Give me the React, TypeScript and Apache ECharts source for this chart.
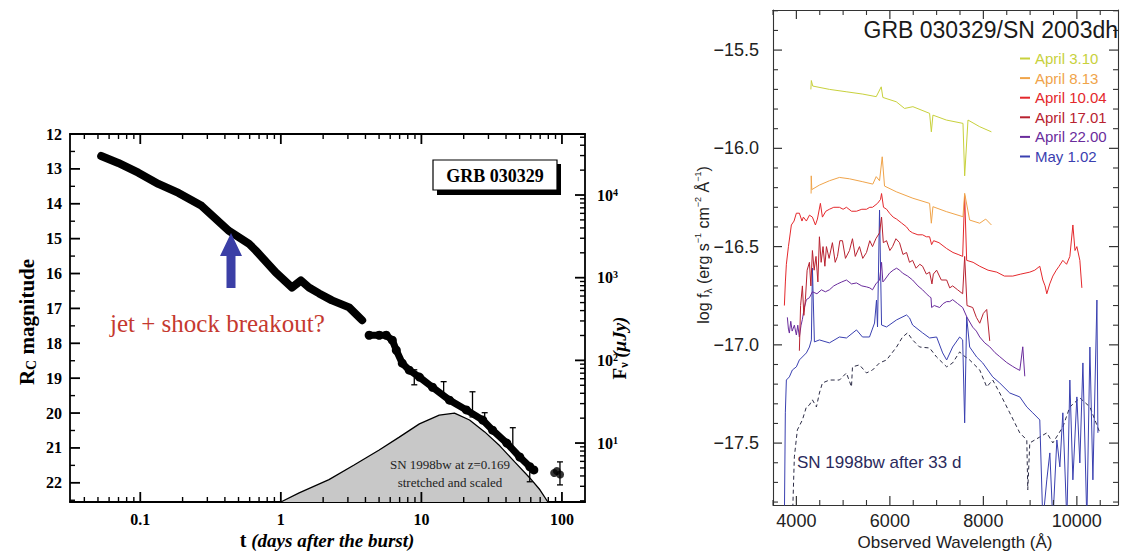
import React, { useEffect, useRef } from "react";
import * as echarts from "echarts";

// ---------- Left panel: GRB 030329 light curve ----------
const lcEarlyT = [0.0527, 0.0697, 0.0968, 0.1345, 0.187, 0.273, 0.425, 0.591, 0.663, 0.921, 1.2, 1.39, 1.585, 1.87, 2.31, 3.06, 3.79];
const lcEarlyMag = [12.63, 12.83, 13.11, 13.43, 13.69, 14.06, 14.77, 15.14, 15.34, 15.97, 16.4, 16.2, 16.4, 16.57, 16.77, 16.97, 17.34];
const lcLateT = [4.25, 5.01, 5.62, 6.21, 6.63, 7.31, 8.2, 9.68, 12.0, 15.85, 20.9, 27.3, 32.1, 40.5, 50.1, 59.1, 63.1];
const lcLateMag = [17.77, 17.77, 17.77, 17.91, 18.2, 18.57, 18.77, 18.97, 19.26, 19.63, 19.91, 20.2, 20.49, 20.86, 21.26, 21.54, 21.63];
const lcLastT = [88, 92, 97];
const lcLastMag = [21.72, 21.66, 21.76];
const errT = [8.9, 14.4, 23.1, 28.2, 44.7, 59, 96.8];
const errLo = [18.76, 19.1, 19.39, 19.99, 20.42, 21.48, 21.4];
const errHi = [19.19, 19.48, 20.11, 20.28, 21.05, 21.97, 22.06];
const snT = [1, 1.35, 2.2, 3.32, 5.01, 6.96, 9.68, 13.4, 17.2, 22.0, 28.2, 36.1, 46.1, 59.1, 69.7, 79.4];
const snMag = [22.55, 22.29, 21.91, 21.49, 21.06, 20.69, 20.31, 20.06, 20.0, 20.2, 20.54, 20.94, 21.4, 21.86, 22.2, 22.55];
const magTicks = [12, 13, 14, 15, 16, 17, 18, 19, 20, 21, 22];
const timeTicks = [0.1, 1, 10, 100];
const fluxTicks = [10, 100, 1000, 10000];

// ---------- Right panel: GRB 030329 / SN 2003dh spectra ----------
const specNames = ["April 3.10", "April 8.13", "April 10.04", "April 17.01", "April 22.00", "May 1.02"];
const specColors = ["#c8d13c", "#f0a44a", "#e4282c", "#b82230", "#6a2c9c", "#3a40b0"];

const apr03W = [4310, 4320, 4350, 4707, 5065, 5421, 5708, 5815, 5850, 6137, 6314, 6493, 6850, 6887, 6921, 7208, 7564, 7600, 7671, 7922, 8172];
const apr03F = [-15.70, -15.655, -15.683, -15.700, -15.712, -15.724, -15.737, -15.687, -15.741, -15.763, -15.797, -15.788, -15.822, -15.916, -15.831, -15.856, -15.873, -16.14, -15.856, -15.890, -15.916];

const apr08W = [4315, 4318, 4330, 4493, 4707, 4921, 5136, 5421, 5635, 5708, 5779, 5836, 5886, 6137, 6493, 6850, 6887, 6921, 7208, 7564, 7600, 7707, 7922, 8050, 8172];
const apr08F = [-16.23, -16.14, -16.21, -16.187, -16.165, -16.148, -16.155, -16.170, -16.182, -16.144, -16.165, -16.043, -16.192, -16.221, -16.254, -16.280, -16.381, -16.297, -16.322, -16.348, -16.229, -16.365, -16.381, -16.36, -16.390];

const apr10W = [3743, 3765, 3786, 3830, 3893, 3950, 4000, 4064, 4120, 4150, 4214, 4280, 4343, 4407, 4450, 4514, 4557, 4630, 4707, 4800, 4921, 5000, 5071, 5180, 5286, 5400, 5500, 5570, 5629, 5736, 5800, 5822, 5864, 5930, 5993, 6070, 6143, 6250, 6357, 6420, 6486, 6600, 6700, 6780, 6850, 6893, 6936, 7050, 7215, 7350, 7460, 7557, 7600, 7643, 7780, 7922, 8100, 8286, 8450, 8629, 8800, 8993, 9100, 9207, 9272, 9320, 9357, 9420, 9486, 9560, 9620, 9700, 9780, 9850, 9915, 9960, 10000, 10064, 10107];
const apr10F = [-16.80, -16.68, -16.59, -16.50, -16.39, -16.37, -16.33, -16.33, -16.37, -16.35, -16.37, -16.34, -16.35, -16.39, -16.36, -16.28, -16.35, -16.32, -16.31, -16.30, -16.30, -16.31, -16.30, -16.32, -16.32, -16.31, -16.31, -16.30, -16.30, -16.28, -16.26, -16.23, -16.30, -16.31, -16.33, -16.35, -16.36, -16.38, -16.40, -16.42, -16.43, -16.44, -16.44, -16.45, -16.45, -16.49, -16.47, -16.48, -16.51, -16.53, -16.54, -16.55, -16.24, -16.57, -16.58, -16.60, -16.62, -16.63, -16.65, -16.65, -16.64, -16.63, -16.62, -16.60, -16.67, -16.70, -16.74, -16.69, -16.65, -16.62, -16.60, -16.57, -16.59, -16.55, -16.39, -16.52, -16.50, -16.57, -16.71];

const apr17W = [4064, 4090, 4129, 4160, 4193, 4230, 4279, 4310, 4343, 4380, 4420, 4460, 4493, 4530, 4570, 4610, 4643, 4700, 4771, 4830, 4879, 4930, 4986, 5050, 5136, 5200, 5260, 5350, 5420, 5500, 5570, 5629, 5700, 5779, 5822, 5860, 5929, 6000, 6057, 6130, 6207, 6280, 6357, 6420, 6486, 6560, 6640, 6700, 6780, 6850, 6900, 6930, 7000, 7100, 7215, 7280, 7343, 7450, 7557, 7600, 7650, 7772, 7850, 7922, 8000, 8072, 8136];
const apr17F = [-17.03, -16.80, -16.70, -16.85, -16.77, -16.62, -16.58, -16.70, -16.52, -16.62, -16.55, -16.68, -16.45, -16.58, -16.50, -16.60, -16.50, -16.56, -16.48, -16.58, -16.55, -16.47, -16.47, -16.56, -16.52, -16.46, -16.55, -16.50, -16.56, -16.53, -16.47, -16.50, -16.46, -16.43, -16.35, -16.48, -16.47, -16.52, -16.50, -16.46, -16.48, -16.54, -16.53, -16.58, -16.57, -16.61, -16.59, -16.60, -16.64, -16.63, -16.69, -16.64, -16.62, -16.67, -16.67, -16.71, -16.70, -16.72, -16.74, -16.55, -16.80, -16.81, -16.86, -16.89, -16.84, -16.82, -16.98];

const apr22W = [3807, 3830, 3850, 3880, 3910, 3957, 4000, 4030, 4064, 4100, 4129, 4170, 4214, 4280, 4343, 4440, 4536, 4620, 4707, 4800, 4879, 4970, 5071, 5180, 5286, 5400, 5500, 5570, 5629, 5700, 5779, 5822, 5850, 5886, 5993, 6070, 6143, 6210, 6271, 6380, 6486, 6600, 6700, 6780, 6850, 6880, 6893, 6950, 7065, 7140, 7215, 7280, 7343, 7450, 7557, 7650, 7772, 7850, 7922, 8030, 8136, 8250, 8350, 8500, 8629, 8700, 8779, 8843, 8886];
const apr22F = [-16.86, -16.92, -16.94, -16.88, -16.93, -16.90, -16.95, -16.90, -16.96, -16.90, -16.87, -16.81, -16.77, -16.76, -16.73, -16.74, -16.72, -16.73, -16.72, -16.70, -16.69, -16.68, -16.67, -16.69, -16.685, -16.70, -16.705, -16.71, -16.72, -16.69, -16.67, -16.58, -16.68, -16.67, -16.635, -16.62, -16.61, -16.62, -16.635, -16.65, -16.67, -16.70, -16.72, -16.74, -16.755, -16.76, -16.81, -16.80, -16.81, -16.79, -16.78, -16.78, -16.77, -16.79, -16.81, -16.86, -16.91, -16.93, -16.96, -16.99, -17.01, -17.04, -17.06, -17.09, -17.11, -17.12, -17.13, -17.01, -17.16];

const may01W = [3743, 3764, 3786, 3850, 3914, 4000, 4064, 4214, 4279, 4321, 4343, 4386, 4493, 4707, 4921, 5071, 5286, 5414, 5564, 5672, 5714, 5736, 5779, 5822, 5929, 6143, 6357, 6421, 6486, 6700, 6850, 7000, 7129, 7215, 7343, 7493, 7557, 7600, 7643, 7707, 7857, 7986, 8200, 8350, 8565, 8779, 8929, 9057, 9207, 9272, 9357, 9422, 9486, 9572, 9636, 9700, 9786, 9850, 9915, 10000, 10064, 10129, 10214, 10279, 10343, 10429, 10450];
const may01F = [-17.90, -17.346, -17.179, -17.163, -17.128, -17.112, -17.077, -17.041, -17.011, -16.975, -16.609, -16.985, -16.975, -16.990, -16.960, -16.965, -16.924, -16.960, -16.960, -16.889, -16.772, -16.909, -16.314, -16.899, -16.909, -16.873, -16.848, -16.863, -16.899, -16.939, -16.965, -16.960, -17.041, -17.077, -17.011, -16.960, -16.975, -17.397, -16.858, -17.011, -17.062, -17.092, -17.163, -17.194, -17.245, -17.265, -17.316, -17.346, -17.382, -17.90, -17.687, -17.550, -17.90, -17.484, -17.621, -17.346, -17.90, -17.179, -17.687, -17.265, -17.601, -17.092, -17.90, -17.011, -17.687, -16.772, -17.448];

const sn98W = [3914, 3957, 4021, 4129, 4214, 4279, 4343, 4429, 4493, 4557, 4707, 4921, 5071, 5179, 5200, 5350, 5500, 5629, 5779, 5929, 6143, 6271, 6379, 6486, 6636, 6850, 7000, 7215, 7343, 7493, 7557, 7707, 7922, 8072, 8200, 8350, 8565, 8779, 8929, 8950, 8993, 9207, 9357, 9486, 9700, 9850, 10064, 10279, 10493];
const sn98F = [-17.90, -17.570, -17.433, -17.382, -17.316, -17.306, -17.280, -17.316, -17.245, -17.194, -17.179, -17.179, -17.143, -17.214, -17.112, -17.102, -17.143, -17.128, -17.092, -17.077, -17.011, -16.960, -16.939, -16.975, -17.011, -17.016, -17.062, -17.112, -17.092, -17.036, -17.051, -17.077, -17.128, -17.214, -17.179, -17.245, -17.346, -17.448, -17.484, -17.738, -17.499, -17.469, -17.448, -17.499, -17.418, -17.316, -17.270, -17.316, -17.448];

const fluxLabelTicks = [-17.5, -17.0, -16.5, -16.0, -15.5];
const waveLabelTicks = [4000, 6000, 8000, 10000];

const SERIF = "'Liberation Serif', 'Times New Roman', serif";
const SANS = "'Liberation Sans', Arial, Helvetica, sans-serif";

const L = (v: number) => Math.log10(v);
const zip = (xs: number[], ys: number[], fx: (v: number) => number = (v) => v) => xs.map((x, i) => [fx(x), ys[i]]);

// layout: grids and axis extents
const G0 = { left: 70, top: 134, width: 515, height: 368 };
const G1 = { left: 773, top: 10, width: 345, height: 495 };
const lxMin = -1.5, lxMax = 2.164;
const lyMin = 12, lyMax = 22.55;
const fMin = 0.287, fMax = 4.738;
const rxMin = 3500, rxMax = 10880;
const ryMin = -17.815, ryMax = -15.296;

function logMinor(lo: number, hi: number) {
  const out: number[] = [];
  for (let n = -3; n <= 5; n++) for (let k = 2; k <= 9; k++) {
    const v = n + Math.log10(k);
    if (v > lo && v < hi) out.push(v);
  }
  return out;
}
function linTicks(lo: number, hi: number, step: number) {
  const out: number[] = [];
  for (let v = Math.ceil(lo / step - 1e-9) * step; v <= hi + 1e-9; v += step) out.push(Math.round(v * 1000) / 1000);
  return out;
}

const common = { silent: true, emphasis: { disabled: true }, animation: false };

// x-direction tick marks: each item [x, yAtEdgeA, yAtEdgeB]; marks point inward from both edges.
function xTickSeries(name: string, xIdx: number, yIdx: number, vals: number[], yA: number, yB: number, len: number, color: string, w: number) {
  return {
    ...common, type: "custom", name, xAxisIndex: xIdx, yAxisIndex: yIdx, z: 6,
    data: vals.map((v) => [v, yA, yB]),
    encode: { x: 0, y: [1, 2] },
    renderItem: (_p: any, api: any) => {
      const x = api.value(0);
      const a = api.coord([x, api.value(1)]);
      const b = api.coord([x, api.value(2)]);
      const s = b[1] > a[1] ? 1 : -1;
      const st = { stroke: color, lineWidth: w };
      return { type: "group", children: [
        { type: "line", shape: { x1: a[0], y1: a[1], x2: a[0], y2: a[1] + s * len }, style: st },
        { type: "line", shape: { x1: b[0], y1: b[1], x2: b[0], y2: b[1] - s * len }, style: st },
      ] };
    },
  };
}
// y-direction tick marks: each item [y, xLeft, xRight]; sides chosen by flags.
function yTickSeries(name: string, xIdx: number, yIdx: number, vals: number[], xL: number, xR: number, len: number,
                     left: boolean, right: boolean, color: string, w: number) {
  return {
    ...common, type: "custom", name, xAxisIndex: xIdx, yAxisIndex: yIdx, z: 6,
    data: vals.map((v) => [xL, v, xR]),
    encode: { x: [0, 2], y: 1 },
    renderItem: (_p: any, api: any) => {
      const y = api.value(1);
      const a = api.coord([api.value(0), y]);
      const b = api.coord([api.value(2), y]);
      const st = { stroke: color, lineWidth: w };
      const ch: any[] = [];
      if (left) ch.push({ type: "line", shape: { x1: a[0], y1: a[1], x2: a[0] + len, y2: a[1] }, style: st });
      if (right) ch.push({ type: "line", shape: { x1: b[0], y1: b[1], x2: b[0] - len, y2: b[1] }, style: st });
      return { type: "group", children: ch };
    },
  };
}

function buildOption() {
  const lineL = { show: true, onZero: false, lineStyle: { color: "#000", width: 1.8 } };
  const lineR = { show: true, onZero: false, lineStyle: { color: "#333", width: 1.1 } };
  const noTick = { show: false };
  const noLabel = { show: false };
  const base = { type: "value", splitLine: { show: false }, axisPointer: { show: false } };

  const xMajL = timeTicks.map(L);
  const xMinL = logMinor(lxMin, lxMax);
  const yMinL = magTicks.map((v) => v + 0.5).filter((v) => v < lyMax);
  const fMaj = fluxTicks.map(L);
  const fMinT = logMinor(fMin, fMax);
  const xMinR = linTicks(rxMin, rxMax, 500).filter((v) => v % 2000 !== 0);
  const yMinR = linTicks(ryMin, ryMax, 0.1).filter((v) => Math.abs(v * 2 - Math.round(v * 2)) > 1e-6);

  const serifLabel = { fontFamily: SERIF, fontWeight: "bold", fontSize: 16, color: "#000" };
  const sansLabel = { fontFamily: SANS, fontSize: 18, color: "#222" };

  const xAxis: any[] = [
    { ...base, gridIndex: 0, position: "bottom", min: lxMin, max: lxMax, axisLine: lineL, axisTick: noTick,
      axisLabel: { ...serifLabel, customValues: xMajL, margin: 9, formatter: (v: number) => String(+Math.pow(10, v).toPrecision(1)) } },
    { ...base, gridIndex: 0, position: "top", min: lxMin, max: lxMax, axisLine: lineL, axisTick: noTick, axisLabel: noLabel },
    { ...base, gridIndex: 1, position: "bottom", min: rxMin, max: rxMax, axisLine: lineR, axisTick: noTick,
      axisLabel: { ...sansLabel, customValues: waveLabelTicks, margin: 7, formatter: (v: number) => String(v) } },
    { ...base, gridIndex: 1, position: "top", min: rxMin, max: rxMax, axisLine: lineR, axisTick: noTick, axisLabel: noLabel },
  ];
  const yAxis: any[] = [
    { ...base, gridIndex: 0, position: "left", inverse: true, min: lyMin, max: lyMax, axisLine: lineL, axisTick: noTick,
      axisLabel: { ...serifLabel, customValues: magTicks, margin: 8, formatter: (v: number) => String(v) } },
    { ...base, gridIndex: 0, position: "right", min: fMin, max: fMax, axisLine: lineL, axisTick: noTick,
      axisLabel: { ...serifLabel, customValues: fMaj, margin: 12, formatter: (v: number) => "10{s|" + Math.round(v) + "}",
        rich: { s: { fontFamily: SERIF, fontWeight: "bold", fontSize: 10, verticalAlign: "top", color: "#000" } } } },
    { ...base, gridIndex: 1, position: "left", min: ryMin, max: ryMax, axisLine: lineR, axisTick: noTick,
      axisLabel: { ...sansLabel, customValues: fluxLabelTicks, margin: 14, formatter: (v: number) => v.toFixed(1).replace("-", "\u2212") } },
    { ...base, gridIndex: 1, position: "right", min: ryMin, max: ryMax, axisLine: lineR, axisTick: noTick, axisLabel: noLabel },
  ];

  const specW = [apr03W, apr08W, apr10W, apr17W, apr22W, may01W];
  const specF = [apr03F, apr08F, apr10F, apr17F, apr22F, may01F];
  const specSeries = specNames.map((name, i) => ({
    ...common, type: "line", name, xAxisIndex: 2, yAxisIndex: 2, showSymbol: false, symbol: "none",
    color: specColors[i], lineStyle: { color: specColors[i], width: 1 }, data: zip(specW[i], specF[i]), z: 3 + (5 - i),
  }));

  const series: any[] = [
    { ...common, type: "line", name: "SN 1998bw template", xAxisIndex: 0, yAxisIndex: 0, showSymbol: false, symbol: "none",
      data: zip(snT, snMag, L), lineStyle: { color: "#000", width: 1.3 }, areaStyle: { color: "#c8c8c8", opacity: 1, origin: "end" }, z: 2 },
    { ...common, type: "line", name: "LC early", xAxisIndex: 0, yAxisIndex: 0, showSymbol: false, symbol: "none",
      data: zip(lcEarlyT, lcEarlyMag, L), lineStyle: { color: "#000", width: 8, cap: "round", join: "round" }, z: 4 },
    { ...common, type: "line", name: "LC late", xAxisIndex: 0, yAxisIndex: 0, showSymbol: true, symbol: "circle", symbolSize: 9,
      itemStyle: { color: "#000" }, data: zip(lcLateT, lcLateMag, L), lineStyle: { color: "#000", width: 7, cap: "round", join: "round" }, z: 4 },
    { ...common, type: "scatter", name: "LC last", xAxisIndex: 0, yAxisIndex: 0, symbol: "circle", symbolSize: 8,
      itemStyle: { color: "#000" }, data: zip(lcLastT, lcLastMag, L), z: 4 },
    { ...common, type: "custom", name: "errors", xAxisIndex: 0, yAxisIndex: 0, z: 5,
      data: errT.map((t, i) => [L(t), errLo[i], errHi[i]]),
      encode: { x: 0, y: [1, 2] },
      renderItem: (_p: any, api: any) => {
        const x = api.value(0);
        const a = api.coord([x, api.value(1)]);
        const b = api.coord([x, api.value(2)]);
        const st = { stroke: "#000", lineWidth: 1.3 };
        return { type: "group", children: [
          { type: "line", shape: { x1: a[0], y1: a[1], x2: b[0], y2: b[1] }, style: st },
          { type: "line", shape: { x1: a[0] - 3, y1: a[1], x2: a[0] + 3, y2: a[1] }, style: st },
          { type: "line", shape: { x1: b[0] - 3, y1: b[1], x2: b[0] + 3, y2: b[1] }, style: st },
        ] };
      } },
    { ...common, type: "line", name: "SN 1998bw after 33 d", xAxisIndex: 2, yAxisIndex: 2, showSymbol: false, symbol: "none",
      data: zip(sn98W, sn98F), lineStyle: { color: "#2b2b45", width: 1, type: [4, 3] }, z: 2 },
    ...specSeries,
    // left panel tick marks
    xTickSeries("tx major L", 0, 0, xMajL, lyMax, lyMin, 10, "#000", 1.8),
    xTickSeries("tx minor L", 0, 0, xMinL, lyMax, lyMin, 5, "#000", 1.4),
    yTickSeries("ty major L", 0, 0, magTicks, lxMin, lxMax, 10, true, false, "#000", 1.8),
    yTickSeries("ty minor L", 0, 0, yMinL, lxMin, lxMax, 5, true, false, "#000", 1.4),
    yTickSeries("ty major F", 0, 1, fMaj, lxMin, lxMax, 10, false, true, "#000", 1.8),
    yTickSeries("ty minor F", 0, 1, fMinT, lxMin, lxMax, 5, false, true, "#000", 1.4),
    // right panel tick marks
    xTickSeries("tx major R", 2, 2, waveLabelTicks, ryMin, ryMax, 9, "#333", 1.2),
    xTickSeries("tx minor R", 2, 2, xMinR, ryMin, ryMax, 5, "#333", 1.1),
    yTickSeries("ty major R", 2, 2, fluxLabelTicks, rxMin, rxMax, 9, true, true, "#333", 1.2),
    yTickSeries("ty minor R", 2, 2, yMinR, rxMin, rxMax, 5, true, true, "#333", 1.1),
  ];

  const graphic: any[] = [
    { type: "rect", shape: { x: 437, y: 164, width: 124, height: 31 }, style: { fill: "#000" }, z: 10 },
    { type: "rect", shape: { x: 433, y: 160, width: 124, height: 30 }, style: { fill: "#fff", stroke: "#000", lineWidth: 1.2 }, z: 11 },
    { type: "text", x: 495, y: 176, z: 12, style: { text: "GRB 030329", fontFamily: SERIF, fontWeight: "bold", fontSize: 18, fill: "#000", align: "center", verticalAlign: "middle" } },
    { type: "polygon", z: 12, shape: { points: [[231, 233], [242, 256], [235.5, 256], [235.5, 288], [226.5, 288], [226.5, 256], [220, 256]] }, style: { fill: "#3b3fa6" } },
    { type: "text", x: 110, y: 323, z: 12, style: { text: "jet + shock breakout?", fontFamily: SERIF, fontSize: 25, fill: "#c5392f", align: "left", verticalAlign: "middle" } },
    { type: "text", x: 450, y: 464, z: 12, style: { text: "SN 1998bw at z=0.169", fontFamily: SERIF, fontSize: 13, fill: "#222", align: "center", verticalAlign: "middle" } },
    { type: "text", x: 450, y: 482, z: 12, style: { text: "stretched and scaled", fontFamily: SERIF, fontSize: 13, fill: "#222", align: "center", verticalAlign: "middle" } },
    { type: "text", x: 27, y: 322, rotation: Math.PI / 2, z: 12, style: { text: "{b|R}{s|C}{b| magnitude}", align: "center", verticalAlign: "middle",
      rich: { b: { fontFamily: SERIF, fontWeight: "bold", fontSize: 21, fill: "#000", lineHeight: 23 },
              s: { fontFamily: SERIF, fontWeight: "bold", fontSize: 14, fill: "#000", verticalAlign: "bottom" } } } },
    { type: "text", x: 619, y: 348, rotation: Math.PI / 2, z: 12, style: { text: "{b|F}{s|\u03bd}{i| (\u03bcJy)}", align: "center", verticalAlign: "middle",
      rich: { b: { fontFamily: SERIF, fontWeight: "bold", fontSize: 19, fill: "#000", lineHeight: 22 },
              s: { fontFamily: SERIF, fontWeight: "bold", fontSize: 12, fill: "#000", verticalAlign: "bottom" },
              i: { fontFamily: SERIF, fontWeight: "bold", fontStyle: "italic", fontSize: 19, fill: "#000", lineHeight: 22 } } } },
    { type: "text", x: 327, y: 540, z: 12, style: { text: "{b|t }{i|(days after the burst)}", align: "center", verticalAlign: "middle",
      rich: { b: { fontFamily: SERIF, fontWeight: "bold", fontSize: 20, fill: "#000" },
              i: { fontFamily: SERIF, fontWeight: "bold", fontStyle: "italic", fontSize: 19, fill: "#000" } } } },
    { type: "text", x: 703, y: 245, rotation: Math.PI / 2, z: 12, style: {
      text: "{n|log f}{sb|\u03bb}{n| (erg s}{sp|\u22121}{n| cm}{sp|\u22122}{n| \u00c5}{sp|\u22121}{n|)}", align: "center", verticalAlign: "middle",
      rich: { n: { fontFamily: SANS, fontSize: 16, fill: "#222", lineHeight: 20 },
              sb: { fontFamily: SANS, fontSize: 10, fill: "#222", verticalAlign: "bottom" },
              sp: { fontFamily: SANS, fontSize: 9, fill: "#222", verticalAlign: "top" } } } },
    { type: "text", x: 955, y: 542, z: 12, style: { text: "Observed Wavelength (\u00c5)", fontFamily: SANS, fontSize: 17, fill: "#222", align: "center", verticalAlign: "middle" } },
    { type: "text", x: 797, y: 462, z: 12, style: { text: "SN 1998bw after 33 d", fontFamily: SANS, fontSize: 17, fill: "#2a2a5c", align: "left", verticalAlign: "middle" } },
  ];

  return {
    animation: false,
    backgroundColor: "#fff",
    title: { text: "GRB 030329/SN 2003dh", right: 7, top: 18, padding: 0,
      textStyle: { fontFamily: SANS, fontSize: 23, fontWeight: "normal", color: "#1a1a1a" } },
    legend: {
      data: specNames.map((n, i) => ({ name: n, textStyle: { color: specColors[i] } })),
      orient: "vertical", left: 1020, top: 51, itemWidth: 10, itemHeight: 2, icon: "rect", itemGap: 4.6,
      selectedMode: false, padding: 0,
      textStyle: { fontFamily: SANS, fontSize: 15, lineHeight: 15, padding: 0 },
    },
    grid: [
      { ...G0, containLabel: false },
      { ...G1, containLabel: false },
    ],
    xAxis, yAxis, series, graphic,
  };
}

export default function App() {
  const ref = useRef<HTMLDivElement>(null);
  useEffect(() => {
    if (!ref.current) return;
    const chart = echarts.init(ref.current, null, { renderer: "svg" });
    chart.setOption(buildOption() as any);
    return () => chart.dispose();
  }, []);
  return <div ref={ref} style={{ position: "absolute", left: 0, top: 0, width: 1125, height: 551, background: "#fff" }} />;
}
